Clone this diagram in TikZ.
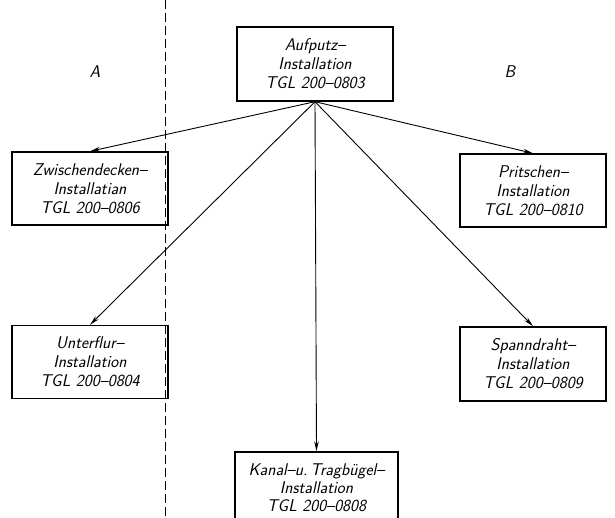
\documentclass[tikz,border=0pt]{standalone}
\usepackage{tikz}
\usetikzlibrary{positioning,arrows.meta}

\begin{document}
\begin{tikzpicture}[x=1pt,y=-1pt,
    caja/.style={draw,line width=1.4pt,align=center,inner sep=2pt,
        font=\fontsize{17}{19}\selectfont\sffamily\slshape},
    flecha/.style={-{Stealth[length=10pt,width=4.5pt]},line width=0.9pt},
    letra/.style={font=\fontsize{17}{19}\selectfont\sffamily\slshape}]

% Marco de la figura
\useasboundingbox (0,0) rectangle (615,518);

% Linea de separacion entre A y B
\draw[line width=1pt,dash pattern=on 9pt off 4pt] (165,0) coordinate (sepA) -- (165,518) coordinate (sepB);
\node[letra] (zonaA) at (95,72) {A};
\node[letra] (zonaB) at (510,72) {B};

% Caja superior
\node[caja,minimum width=156pt,minimum height=74pt] (aufputz) at (315,64)
    {Aufputz--\\Installation\\TGL 200--0803};

% Cajas de la izquierda
\node[caja,minimum width=156pt,minimum height=73pt] (zwischen) at (90,188.5)
    {Zwischendecken--\\Installatian\\TGL 200--0806};
\node[caja,minimum width=156pt,minimum height=73pt] (unterflur) at (90,362)
    {Unterflur--\\Installation\\TGL 200--0804};

% Cajas de la derecha
\node[caja,minimum width=146pt,minimum height=73pt] (pritschen) at (533,190.5)
    {Pritschen--\\Installation\\TGL 200--0810};
\node[caja,minimum width=146pt,minimum height=74pt] (spann) at (533,364)
    {Spanndraht--\\Installation\\TGL 200--0809};

% Caja inferior (cortada por el borde)
\node[caja,minimum width=163pt,minimum height=72pt,
      font=\fontsize{17}{18}\selectfont\sffamily\slshape] (kanal) at (316.5,488)
    {Kanal--u.\,Tragb\"ugel--\\Installation\\TGL 200--0808};

% Flechas desde la caja superior
\foreach \destino in {zwischen,unterflur,kanal,spann,pritschen} {
    \draw[flecha] (aufputz.south) -- (\destino.north);
}

\end{tikzpicture}
\end{document}
